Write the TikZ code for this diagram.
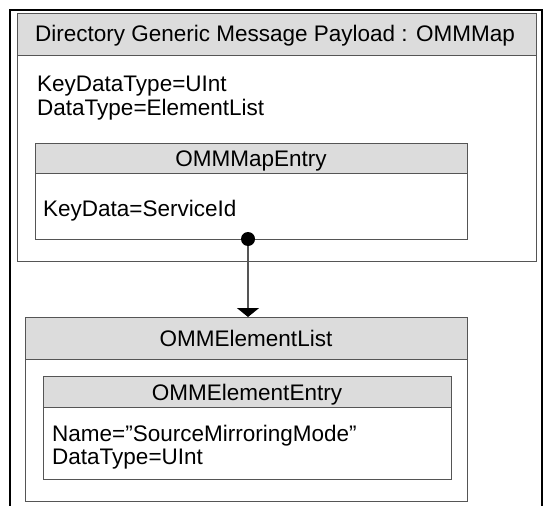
\documentclass[tikz,border=0pt]{standalone}
\usepackage{fontspec}
\setmainfont{Liberation Sans}
\usetikzlibrary{arrows.meta}
\definecolor{hdr}{HTML}{DCDCDC}
\definecolor{edge}{HTML}{555555}
\begin{document}
\begin{tikzpicture}[x=1pt,y=-1pt,
  box/.style={draw=edge,line width=1.3pt,fill=white,inner sep=0pt,anchor=north west},
  hbox/.style={draw=edge,line width=1.3pt,fill=hdr,inner sep=0pt,anchor=north west},
  txt/.style={inner sep=0pt,anchor=base west,font=\fontsize{22.5}{23}\selectfont},
  ttl/.style={inner sep=0pt,anchor=base,font=\fontsize{22.5}{23}\selectfont},
  conn/.style={draw=edge,line width=1.3pt}]
\useasboundingbox (0,0) rectangle (545,505);
\fill[white] (0,0) rectangle (545,505);
% outer frame (open at bottom)
\draw[black,line width=2pt] (10,510) -- (10,10) -- (542,10) -- (542,510);
% Directory box
\node[box,minimum width=519pt,minimum height=248pt] (dir) at (17,13) {};
\node[hbox,minimum width=519pt,minimum height=42pt] (dirh) at (17,13) {};
\node[ttl] (dirt) at (275,42) {Directory Generic Message Payload : OMMMap};
\node[txt] (kdt) at (37,92) {KeyDataType=UInt};
\node[txt] (dt) at (37,116) {DataType=ElementList};
% Map entry
\node[box,minimum width=432pt,minimum height=96pt] (me) at (35,143) {};
\node[hbox,minimum width=432pt,minimum height=30pt] (meh) at (35,143) {};
\node[ttl] (met) at (251,166) {OMMMapEntry};
\node[txt] (kd) at (43,216) {KeyData=ServiceId};
% Element list
\node[box,minimum width=442pt,minimum height=184pt] (el) at (25,317) {};
\node[hbox,minimum width=442pt,minimum height=42pt] (elh) at (25,317) {};
\node[ttl] (elt) at (246,346) {OMMElementList};
% Element entry
\node[box,minimum width=408pt,minimum height=103pt] (ee) at (43,376) {};
\node[hbox,minimum width=408pt,minimum height=31pt] (eeh) at (43,376) {};
\node[ttl] (eet) at (247,400) {OMMElementEntry};
\node[txt] (nm) at (52,441) {Name=”SourceMirroringMode”};
\node[txt] (dt2) at (52,464) {DataType=UInt};
% connector
\coordinate (dotpt) at (248,239);
\draw[conn,-{Triangle[width=22pt,length=9pt,black]}] (dotpt) -- (dotpt |- elh.north);
\fill[black] (dotpt) circle (7pt);
\end{tikzpicture}
\end{document}
